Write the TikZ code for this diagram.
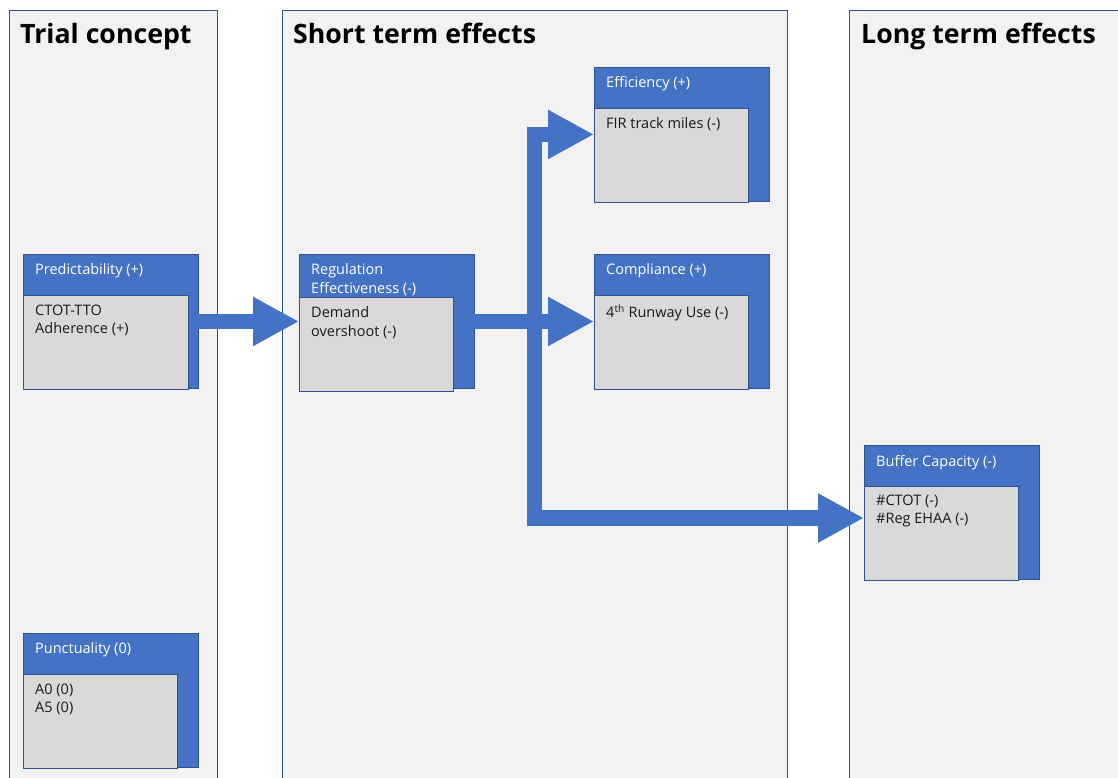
\documentclass[tikz,border=0pt]{standalone}
\usepackage{fontspec}
\setmainfont{Open Sans}
\usetikzlibrary{arrows.meta}
\definecolor{boxblue}{HTML}{4472C4}
\definecolor{boxline}{HTML}{2F528F}
\definecolor{panelfill}{HTML}{F2F2F2}
\definecolor{innerfill}{HTML}{D9D9D9}
\definecolor{txt}{HTML}{1A1A1A}
\newcommand{\boxfont}{\fontsize{14.5}{18.7}\selectfont}
\newcommand{\headfont}{\fontsize{26.7}{30}\selectfont\bfseries}
\begin{document}
\begin{tikzpicture}[x=1pt,y=-1pt,
  panel/.style={draw=boxline, fill=panelfill, line width=0.9pt, anchor=north west, inner sep=0pt, minimum height=800pt},
  outerbox/.style={draw=boxline, fill=boxblue, line width=0.9pt, anchor=north west, inner sep=0pt, minimum width=175pt, minimum height=134pt},
  innerbox/.style={draw=boxline, fill=innerfill, line width=0.9pt, anchor=north west, inner sep=0pt, minimum width=154pt, minimum height=94pt},
  headtext/.style={anchor=base west, inner sep=0pt, font=\headfont, text=black},
  boxtitle/.style={anchor=north west, inner sep=0pt, font=\boxfont, text=white, align=left},
  boxtext/.style={anchor=north west, inner sep=0pt, font=\boxfont, text=txt, align=left},
  bigarrow/.style={draw=boxblue, line width=15.5pt, line cap=rect, line join=miter,
    -{Triangle[length=46pt, width=46pt]}}
]
\useasboundingbox (0,0) rectangle (1118,778);
\clip (0,0) rectangle (1118,778);
\fill[white] (0,0) rectangle (1118,778);

% panels
\node[panel, minimum width=208pt] (p1) at (9,10) {};
\node[panel, minimum width=505pt] (p2) at (282,10) {};
\node[panel, minimum width=290pt] (p3) at (849,10) {};
\node[headtext] (h1) at (20,44) {Trial concept};
\node[headtext] (h2) at (293,44) {Short term effects};
\node[headtext] (h3) at (861,44) {Long term effects};

% Predictability
\node[outerbox] (pred) at (23,254) {};
\node[innerbox, minimum width=165pt] (pred-in) at (23,295) {};
\node[boxtitle] (pred-t) at (35,263.5) {Predictability (+)};
\node[boxtext] (pred-x) at (35,304.5) {CTOT-TTO\\Adherence (+)};

% Punctuality
\node[outerbox] (punc) at (23,633) {};
\node[innerbox] (punc-in) at (23,674) {};
\node[boxtitle] (punc-t) at (35,642.5) {Punctuality (0)};
\node[boxtext] (punc-x) at (35,683.5) {A0 (0)\\A5 (0)};

% Regulation effectiveness
\node[outerbox] (reg) at (299,254) {};
\node[innerbox] (reg-in) at (299,297) {};
\node[boxtitle] (reg-t) at (311,263.5) {Regulation\\Effectiveness (-)};
\node[boxtext] (reg-x) at (311,306.5) {Demand\\overshoot (-)};

% Efficiency
\node[outerbox] (eff) at (594,67) {};
\node[innerbox] (eff-in) at (594,108) {};
\node[boxtitle] (eff-t) at (606,76.5) {Efficiency (+)};
\node[boxtext] (eff-x) at (606,117.5) {FIR track miles (-)};

% Compliance
\node[outerbox] (comp) at (594,254) {};
\node[innerbox] (comp-in) at (594,295) {};
\node[boxtitle] (comp-t) at (606,263.5) {Compliance (+)};
\node[boxtext] (comp-x) at (606,304.5) {4\textsuperscript{th} Runway Use (-)};

% Buffer capacity
\node[outerbox] (buf) at (864,445) {};
\node[innerbox] (buf-in) at (864,486) {};
\node[boxtitle] (buf-t) at (876,455) {Buffer Capacity (-)};
\node[boxtext] (buf-x) at (876,494.5) {\#CTOT (-)\\\#Reg EHAA (-)};

% connectors
\coordinate (jb) at (534.5,518);
\draw[bigarrow] (pred) -- (reg);
\draw[bigarrow] (reg) -- (comp);
\draw[bigarrow] (jb) |- (eff.west);
\draw[bigarrow] (jb) -- (jb -| buf.west);
\end{tikzpicture}
\end{document}
